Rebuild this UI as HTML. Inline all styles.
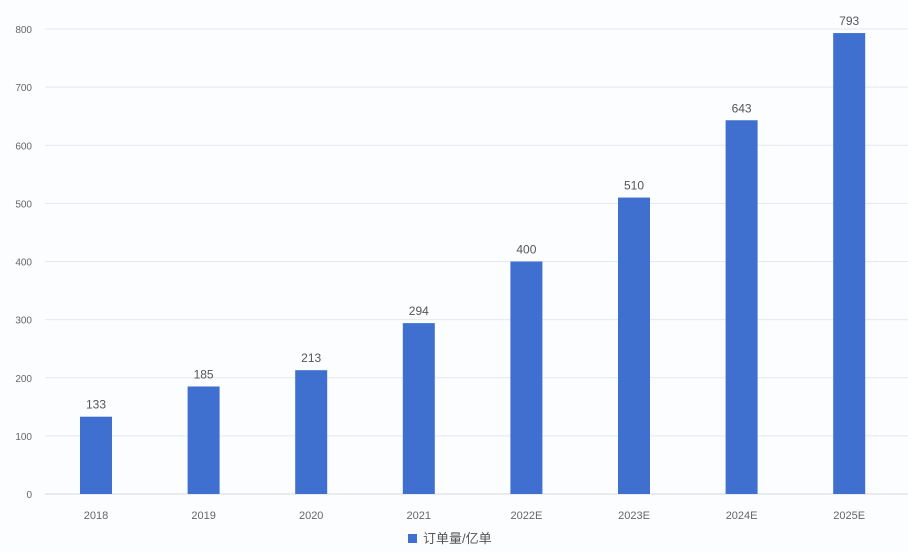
<!DOCTYPE html>
<html><head><meta charset="utf-8"><style>
html,body{margin:0;padding:0;background:#fcfdff;}
svg{display:block;font-family:"Liberation Sans","Noto Sans CJK SC",sans-serif;}
</style></head><body>
<svg id="chart" width="908" height="552" viewBox="0 0 908 552" xmlns="http://www.w3.org/2000/svg">
<rect width="908" height="552" fill="#fcfdff"/>
<g id="grid"></g><g id="bars"></g><g id="labels"></g>
<rect x="408" y="534" width="9" height="9" fill="#3f6fcf"/>
<text x="423" y="543" font-size="13" fill="#555">订单量/亿单</text>
</svg>
<script>
const categories=["2018","2019","2020","2021","2022E","2023E","2024E","2025E"];
const values=[133,185,213,294,400,510,643,793];
const yTicks=[0,100,200,300,400,500,600,700,800];
const NS="http://www.w3.org/2000/svg";
const y0=494,y1=29,vmax=800,left=45,right=908,xStart=96,step=107.6,bw=32;
const yScale=v=>y0-(v/vmax)*(y0-y1);
const xScale=i=>xStart+i*step;
function mk(t,a,p){const e=document.createElementNS(NS,t);for(const k in a)e.setAttribute(k,a[k]);p.appendChild(e);return e;}
const g=document.getElementById('grid'),b=document.getElementById('bars'),l=document.getElementById('labels');
yTicks.forEach(v=>{
 const ln=mk('line',{x1:left,x2:right,y1:yScale(v),y2:yScale(v),stroke:v===0?'#d5d9e0':'#e4e8ef','stroke-width':1},g);
 
 
 const t=mk('text',{x:32,y:yScale(v)+4,'font-size':10,fill:'#666','text-anchor':'end'},g);
 t.textContent=v;
 
 
});
categories.forEach((c,i)=>{
 const x=xScale(i),v=values[i];
 const r=mk('rect',{x:x-bw/2,y:yScale(v),width:bw,height:y0-yScale(v),fill:'#3f6fcf'},b);
 
 
 const t=mk('text',{x:x,y:yScale(v)-8,'font-size':12,fill:'#555','text-anchor':'middle'},l);
 t.textContent=v;
 
 
 const xt=mk('text',{x:x,y:519,'font-size':11,fill:'#666','text-anchor':'middle'},l);
 xt.textContent=c;
 
 
});
</script>
</body></html>
